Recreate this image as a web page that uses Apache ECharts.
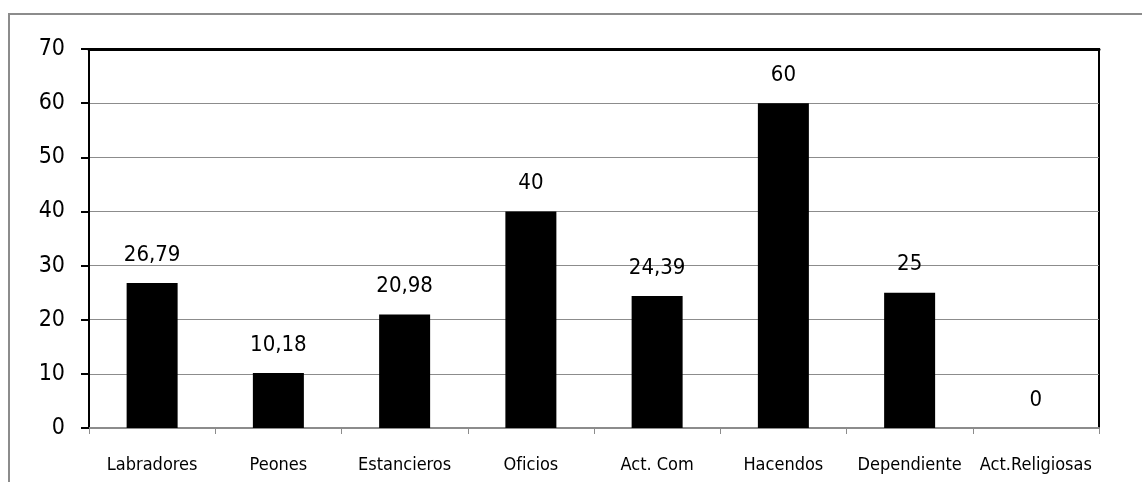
<!DOCTYPE html>
<html lang="es">
<head>
    <meta charset="UTF-8">
    <title>Ocupaciones</title>
    <style>
        body { margin: 0; background: #fff; }
        #chart { width: 1142px; height: 482px; }
    </style>
</head>
<body>
    <div id="chart"></div>
    <script src="https://cdn.jsdelivr.net/npm/echarts@6/dist/echarts.min.js"></script>
    <script>
        // datos
        const categorias = ['Labradores', 'Peones', 'Estancieros', 'Oficios', 'Act. Com', 'Hacendos', 'Dependiente', 'Act.Religiosas'];
        const valores = [26.79, 10.18, 20.98, 40, 24.39, 60, 25, 0];
        const yMin = 0, yMax = 70, yPaso = 10;

        const chart = echarts.init(document.getElementById('chart'));

        chart.setOption({
            animation: false,
            graphic: [{
                type: 'rect',
                shape: { x: 9, y: 14, width: 1200, height: 600 },
                style: { fill: 'none', stroke: '#8c8c8c', lineWidth: 2 },
                silent: true
            }],
            grid: {
                left: 89, right: 43, top: 49, bottom: 54,
                show: true, borderColor: '#000', borderWidth: 2
            },
            xAxis: [{
                type: 'category',
                data: categorias,
                axisLine: { lineStyle: { color: '#8c8c8c', width: 2 } },
                axisTick: { show: true, alignWithLabel: false, length: 6, lineStyle: { color: '#8c8c8c', width: 1 } },
                axisLabel: { color: '#000', fontFamily: 'DejaVu Sans Condensed', fontSize: 18, margin: 28, interval: 0 }
            }, {
                type: 'category',
                position: 'top',
                data: categorias,
                axisLine: { lineStyle: { color: '#000', width: 3 } },
                axisTick: { show: false },
                axisLabel: { show: false }
            }],
            yAxis: {
                type: 'value',
                min: yMin, max: yMax, interval: yPaso,
                axisLine: { show: true, lineStyle: { color: '#000', width: 2 } },
                axisTick: { show: true, length: 8, lineStyle: { color: '#000', width: 2 } },
                axisLabel: { color: '#000', fontFamily: 'DejaVu Sans Condensed', fontSize: 23, margin: 24 },
                splitLine: { lineStyle: { color: '#8c8c8c', width: 1 } }
            },
            series: [{
                type: 'bar',
                data: valores,
                barWidth: 51,
                itemStyle: { color: '#000' },
                label: {
                    show: true,
                    position: 'top',
                    distance: 17,
                    color: '#000',
                    fontFamily: 'DejaVu Sans Condensed',
                    fontSize: 22,
                    formatter: p => String(p.value).replace('.', ',')
                }
            }]
        });
    </script>
</body>
</html>
